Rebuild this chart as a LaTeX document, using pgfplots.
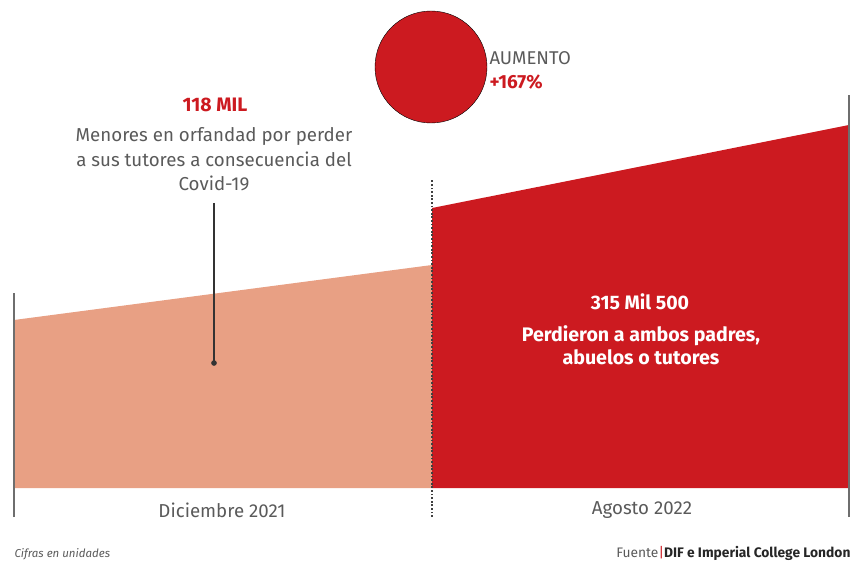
\documentclass[border=0pt]{standalone}
\usepackage{pgfplots}
\pgfplotsset{compat=1.18}
\usepackage{fontspec}
\setmainfont{Fira Sans}
\definecolor{cred}{HTML}{CC1A20}
\definecolor{cpeach}{HTML}{E8A084}
\definecolor{cgray}{HTML}{5A5A5A}
\definecolor{cline}{HTML}{6E6E6E}
\begin{document}
\begin{tikzpicture}
\begin{axis}[
  scale only axis, width=854pt, height=560pt,
  xmin=0, xmax=854, ymin=0, ymax=560,
  hide axis, clip=false,
]
\coordinate (ll) at (rel axis cs:0,0);
\coordinate (ur) at (rel axis cs:1,1);
% left area: Diciembre 2021 (118 mil)
\addplot[draw=none, fill=cpeach] coordinates {(14,72) (14,240) (432,295) (432,72)} -- cycle;
% right area: Agosto 2022 (315 mil 500)
\addplot[draw=none, fill=cred] coordinates {(432,72) (432,352) (849,435) (849,72)} -- cycle;
% frame lines
\addplot[cline, line width=1.6pt] coordinates {(14,43) (14,267)};
\addplot[cline, line width=1.6pt] coordinates {(849,43) (849,465)};
\addplot[black!75, line width=1.4pt, dash pattern=on 1.8pt off 1.8pt] coordinates {(432,43) (432,380)};
% leader line
\addplot[black!80, line width=1.2pt, mark=*, mark indices={2}, mark size=2.2pt, mark options={fill=black!80}] coordinates {(214,357) (214,197)};
% circle
\addplot[only marks, mark=*, mark size=56pt, mark options={fill=cred, draw=none}] coordinates {(431,493)};
% texts
\node[text=cred, font=\fontsize{19.5}{24}\selectfont\bfseries] at (axis cs:215,455) {118 MIL};
\node[text=cgray, align=center, font=\fontsize{18.7}{24.5}\selectfont, anchor=north] at (axis cs:214,436) {Menores en orfandad por perder\\a sus tutores a consecuencia del\\Covid-19};
\node[text=cgray, anchor=base west, font=\fontsize{18.5}{24}\selectfont] at (axis cs:486,495) {AUMENTO};
\node[text=cred, anchor=base west, font=\fontsize{19}{24}\selectfont\bfseries] at (axis cs:486,471) {+167\%};
\node[text=white, font=\fontsize{19.5}{24}\selectfont\bfseries] at (axis cs:640,258) {315 Mil 500};
\node[text=white, align=center, anchor=north, font=\fontsize{19.6}{23.5}\selectfont\bfseries] at (axis cs:641,238) {Perdieron a ambos padres,\\abuelos o tutores};
\node[text=cgray, font=\fontsize{18.7}{24}\selectfont] at (axis cs:222,50) {Diciembre 2021};
\node[text=cgray, font=\fontsize{18.7}{24}\selectfont] at (axis cs:642,50) {Agosto 2022};
\node[text=cgray, anchor=base west, font=\fontsize{11.5}{13}\selectfont\itshape] at (axis cs:11,3) {Cifras en unidades};
\node[anchor=base east, font=\fontsize{13.8}{15}\selectfont] at (axis cs:854,3) {\textcolor{cgray}{Fuente}\textcolor{cred}{|}\textcolor{black!85}{\bfseries DIF e Imperial College London}};
\end{axis}
\pgfresetboundingbox
\path[use as bounding box] (ll) rectangle (ur);
\end{tikzpicture}
\end{document}
